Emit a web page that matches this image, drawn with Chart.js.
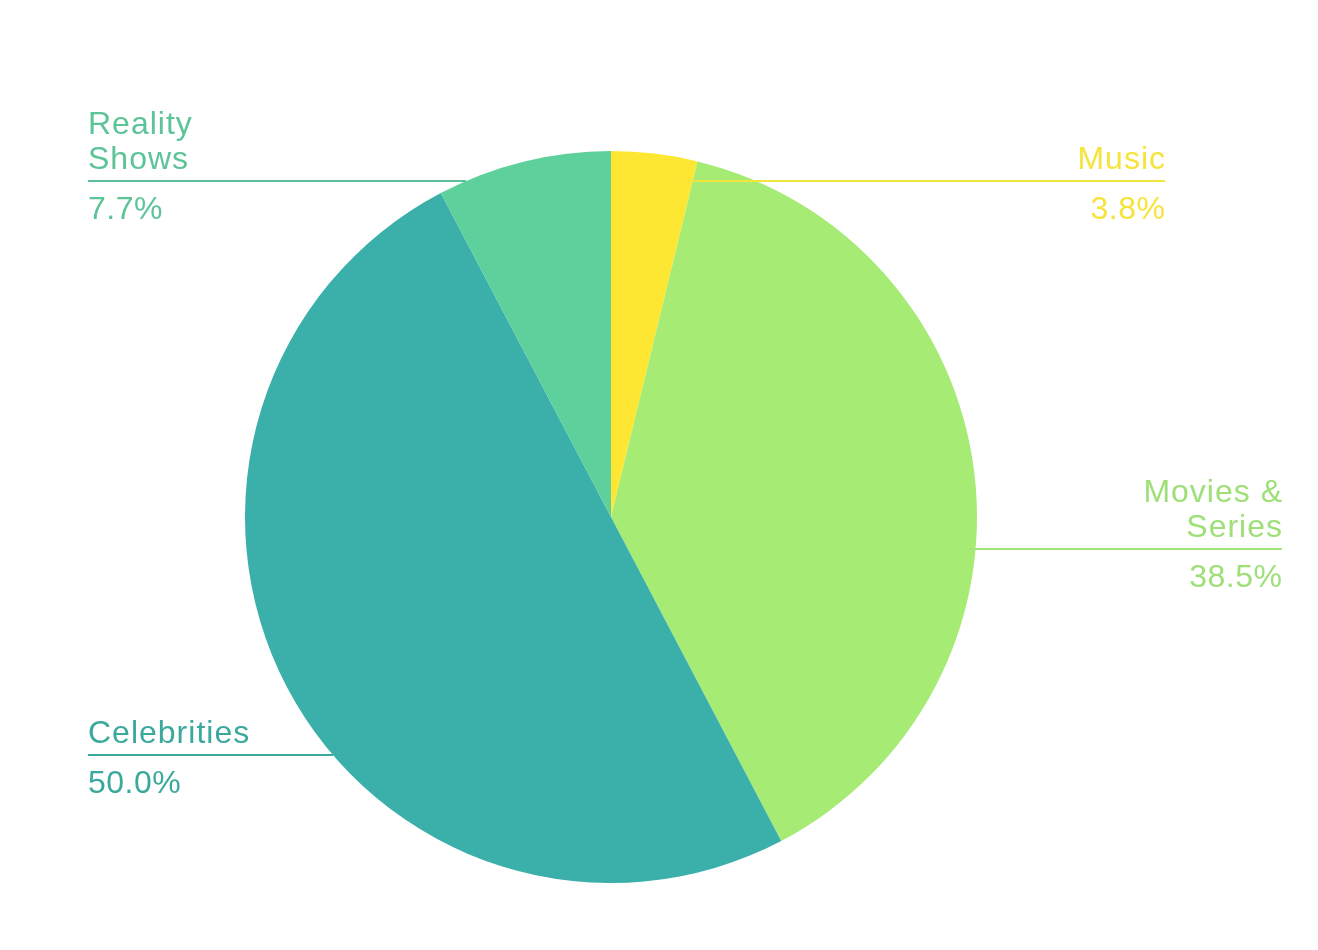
<!DOCTYPE html>
<html>
<head>
<meta charset="utf-8">
<script src="https://cdn.jsdelivr.net/npm/chart.js@4.4.1/dist/chart.umd.min.js"></script>
<style>
html,body{margin:0;padding:0;background:#fff;}
#wrap{width:1318px;height:950px;position:relative;}
</style>
</head>
<body>
<div id="wrap"><canvas id="c" width="1318" height="950"></canvas></div>
<script>
const categories = ["Music", "Movies & Series", "Celebrities", "Reality Shows"];
const shares = [3.8, 38.5, 50.0, 7.7];
const labelLines = [["Music"], ["Movies &", "Series"], ["Celebrities"], ["Reality", "Shows"]];

const sliceColors = ["#FEE733", "#A6EB74", "#3BAFAA", "#5DD09B"];
const textColors = ["#F6E43A", "#9EDF78", "#3AA99C", "#5CC497"];
const lineColors = ["#F3E540", "#A2E27A", "#3AA99C", "#5DBE9A"];
// label layout: side, text x, leader line y
const labelLayout = [
  {side: "right", x: 1165, y: 181},
  {side: "right", x: 1282, y: 549},
  {side: "left", x: 88, y: 755},
  {side: "left", x: 88, y: 181}
];

const FONT = '32px "Liberation Sans", Arial, sans-serif';

const leaderPlugin = {
  id: 'leaders',
  afterDatasetsDraw(chart) {
    const ctx = chart.ctx;
    const meta = chart.getDatasetMeta(0);
    const total = shares.reduce((a, b) => a + b, 0);
    meta.data.forEach((arc, i) => {
      const L = labelLayout[i];
      const y = L.y;
      let hit = null;
      if (L.side === "left") {
        for (let x = L.x; x < chart.width; x += 0.5) {
          if (arc.inRange(x, y)) { hit = x; break; }
        }
      } else {
        for (let x = L.x; x > 0; x -= 0.5) {
          if (arc.inRange(x, y)) { hit = x; break; }
        }
      }
      ctx.save();
      ctx.font = FONT;
      const textW = Math.max(...labelLines[i].map(t => ctx.measureText(t).width));
      let x1, x2;
      if (L.side === "left") { x1 = L.x; x2 = hit !== null ? hit : L.x + textW; }
      else { x1 = hit !== null ? hit - 6 : L.x - textW; x2 = L.x; }
      ctx.strokeStyle = lineColors[i];
      ctx.lineWidth = 2;
      ctx.beginPath();
      ctx.moveTo(x1, y);
      ctx.lineTo(x2, y);
      ctx.stroke();
      ctx.fillStyle = textColors[i];
      const right = L.side !== "left";
      ctx.textAlign = right ? "right" : "left";
      ctx.textBaseline = "alphabetic";
      const lines = labelLines[i];
      const lh = 35;
      ctx.letterSpacing = "1px";
      const tx = right ? L.x + 1 : L.x;
      for (let k = 0; k < lines.length; k++) {
        const by = y - 12 - (lines.length - 1 - k) * lh;
        ctx.fillText(lines[k], tx, by);
      }
      const pct = (shares[i] / total * 100).toFixed(1) + "%";
      ctx.letterSpacing = "0.5px";
      ctx.fillText(pct, right ? L.x + 0.5 : L.x, y + 38);
      ctx.restore();
    });
  }
};

new Chart(document.getElementById('c'), {
  type: 'pie',
  data: {
    labels: categories,
    datasets: [{
      data: shares,
      backgroundColor: sliceColors,
      borderWidth: 0,
      hoverOffset: 0
    }]
  },
  options: {
    responsive: false,
    animation: false,
    events: [],
    layout: {padding: {left: 245, right: 341, top: 151, bottom: 67}},
    plugins: {
      legend: {display: false},
      tooltip: {enabled: false}
    }
  },
  plugins: [leaderPlugin]
});
</script>
</body>
</html>
